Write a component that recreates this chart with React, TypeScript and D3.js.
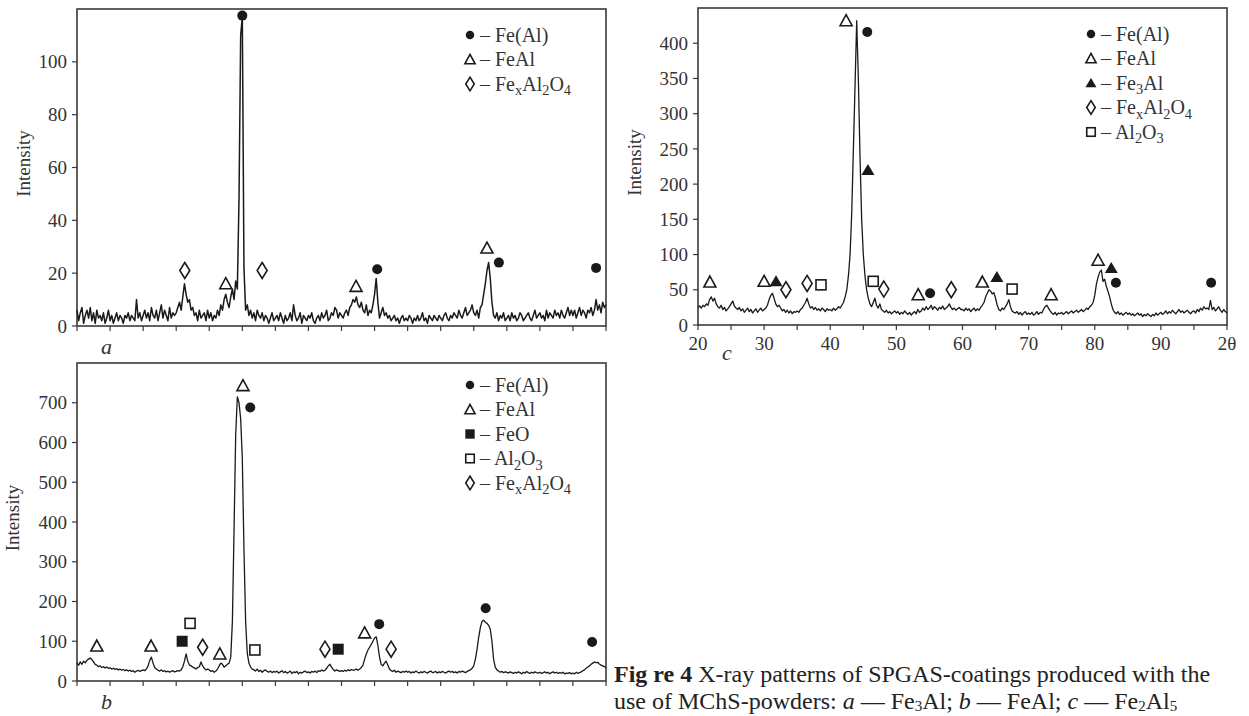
import React from 'react';
import * as d3 from 'd3';

// 2θ grid: 20° .. 100°, one reading every 0.25°
const TWO_THETA_START = 20;
const TWO_THETA_STEP = 0.25;

// a — Fe3Al powder coating
const intensityA = [
  6, 2, 5, 7, 1, 4, 6, 3, 7, 2, 5, 1, 6, 3, 4, 2, 5, 1, 3, 6,
  2, 4, 1, 3, 5, 2, 4, 3, 1, 4, 3, 5, 2, 4, 3, 2, 10, 3, 5, 2,
  4, 6, 3, 5, 2, 7, 4, 3, 6, 2, 5, 8, 3, 6, 4, 2, 7, 3, 5, 4,
  5, 7, 9, 6, 11, 16, 12, 9, 10, 6, 7, 4, 5, 2, 6, 3, 4, 5, 2, 6,
  3, 5, 2, 4, 3, 6, 4, 8, 6, 10, 12, 9, 7, 11, 14, 10, 17, 14, 48, 110,
  117, 22, 6, 8, 4, 6, 3, 5, 2, 6, 4, 3, 5, 2, 4, 3, 1, 3, 5, 2,
  3, 4, 2, 5, 3, 1, 4, 2, 3, 5, 2, 8, 4, 2, 3, 5, 1, 4, 3, 2,
  4, 3, 5, 2, 1, 3, 4, 2, 5, 3, 4, 6, 2, 3, 5, 4, 7, 6, 3, 5,
  4, 3, 5, 6, 4, 7, 8, 10, 9, 11, 8, 7, 9, 6, 5, 8, 4, 6, 5, 8,
  12, 18, 9, 3, 5, 7, 4, 5, 3, 4, 2, 3, 4, 2, 3, 1, 3, 4, 2, 3,
  2, 4, 3, 1, 3, 2, 4, 2, 3, 5, 2, 3, 1, 4, 3, 2, 4, 3, 2, 4,
  3, 2, 4, 5, 3, 2, 4, 3, 5, 4, 3, 6, 4, 3, 5, 7, 4, 5, 6, 8,
  5, 4, 6, 3, 7, 8, 12, 16, 21, 24, 18, 9, 4, 3, 5, 2, 4, 3, 5, 2,
  3, 4, 2, 5, 3, 4, 2, 3, 5, 4, 2, 3, 4, 5, 3, 2, 4, 6, 3, 4,
  5, 3, 4, 2, 6, 3, 5, 4, 3, 6, 4, 5, 3, 6, 4, 3, 5, 7, 4, 6,
  4, 6, 3, 5, 7, 4, 6, 5, 3, 6, 5, 7, 4, 6, 10, 6, 8, 5, 9, 7,
  8,
];

// b — FeAl powder coating
const intensityB = [
  45, 40, 48, 42, 50, 46, 52, 55, 58, 54, 48, 42, 40, 36, 38, 34, 36, 33, 35, 32,
  33, 30, 32, 29, 31, 28, 30, 27, 29, 26, 28, 25, 27, 24, 26, 22, 25, 27, 24, 26,
  28, 26, 30, 38, 52, 60, 45, 34, 30, 27, 25, 28, 24, 26, 23, 25, 22, 24, 26, 23,
  24, 26, 25, 28, 36, 50, 68, 50, 40, 38, 35, 33, 30, 34, 36, 48, 38, 32, 28, 30,
  28, 24, 26, 22, 25, 30, 38, 45, 42, 35, 38, 42, 45, 60, 150, 380, 620, 715, 700, 660,
  560, 330, 150, 70, 45, 35, 30, 28, 25, 30, 24, 27, 22, 26, 28, 24, 22, 25, 21, 24,
  22, 25, 20, 23, 26, 21, 24, 20, 22, 25, 19, 23, 21, 24, 18, 22, 20, 23, 25, 21,
  23, 20, 24, 22, 25, 21, 26, 24, 28, 25, 27, 32, 38, 42, 35, 29, 25, 28, 26, 24,
  26, 24, 27, 25, 28, 26, 29, 27, 28, 30, 27, 30, 34, 40, 55, 68, 78, 85, 92, 100,
  108, 111, 90, 60, 42, 38, 45, 50, 40, 30, 26, 24, 27, 22, 25, 23, 21, 24, 22, 25,
  22, 24, 20, 23, 21, 25, 22, 20, 23, 21, 24, 22, 20, 23, 25, 21, 22, 24, 20, 23,
  21, 24, 22, 20, 23, 25, 22, 24, 21, 23, 20, 24, 22, 25, 23, 21, 24, 26, 28, 32,
  38, 55, 80, 110, 135, 150, 153, 148, 145, 140, 130, 100, 55, 35, 28, 25, 22, 24, 21, 23,
  22, 20, 23, 21, 19, 22, 20, 23, 21, 18, 22, 20, 24, 21, 19, 22, 20, 23, 21, 20,
  22, 19, 21, 23, 20, 22, 18, 21, 23, 20, 22, 19, 21, 20, 22, 18, 20, 19, 21, 18,
  20, 18, 22, 19, 21, 23, 26, 28, 32, 35, 38, 42, 45, 48, 46, 47, 43, 40, 38, 36,
  34,
];

// c — Fe2Al5 powder coating
const intensityC = [
  25, 27, 24, 28, 26, 30, 28, 36, 40, 34, 38, 30, 26, 24, 28, 22, 25, 20, 23, 26,
  30, 34, 27, 24, 22, 25, 20, 23, 18, 21, 24, 19, 22, 17, 20, 23, 18, 21, 24, 20,
  22, 24, 28, 36, 42, 45, 38, 30, 26, 28, 24, 20, 22, 18, 21, 17, 20, 16, 19, 18,
  20, 18, 22, 24, 28, 32, 38, 30, 24, 26, 22, 25, 21, 23, 20, 24, 22, 19, 23, 21,
  22, 20, 24, 21, 23, 26, 24, 28, 32, 40, 50, 70, 100, 160, 250, 340, 432, 350, 240, 150,
  100, 70, 50, 38, 30, 26, 32, 38, 28, 24, 30, 22, 20, 18, 21, 17, 19, 16, 18, 20,
  17, 19, 15, 18, 16, 20, 17, 15, 18, 14, 17, 19, 16, 22, 18, 20, 24, 21, 26, 22,
  24, 28, 22, 26, 24, 21, 25, 23, 27, 22, 24, 26, 30, 25, 22, 24, 21, 23, 25, 22,
  22, 20, 24, 21, 23, 19, 22, 24, 20, 23, 21, 25, 28, 32, 40, 45, 50, 48, 44, 46,
  38, 28, 22, 20, 24, 22, 26, 30, 36, 26, 20, 18, 17, 19, 15, 18, 14, 17, 19, 15,
  17, 15, 18, 14, 16, 19, 15, 18, 17, 22, 26, 28, 24, 20, 17, 15, 18, 14, 17, 16,
  18, 15, 17, 19, 16, 18, 20, 17, 19, 21, 18, 20, 22, 19, 21, 24, 22, 26, 28, 32,
  42, 58, 68, 75, 78, 62, 65, 55, 48, 40, 30, 22, 18, 16, 19, 15, 17, 14, 16, 18,
  15, 17, 14, 16, 13, 15, 17, 14, 16, 12, 15, 13, 16, 14, 12, 15, 13, 17, 14, 16,
  18, 15, 17, 20, 16, 19, 17, 21, 18, 16, 19, 22, 18, 20, 17, 19, 21, 18, 16, 19,
  20, 17, 22, 19, 24, 21, 26, 23, 24, 22, 35, 22, 25, 20, 23, 26, 21, 18, 22, 19,
  17,
];

// phase marks: [phase, 2θ, intensity]
type Mark = [string, number, number];

const marksA: Mark[] = [
  ['FexAl2O4', 36.3, 21], ['FeAl', 42.5, 16], ['Fe(Al)', 45.0, 117.5], ['FexAl2O4', 48.0, 21],
  ['FeAl', 62.2, 15], ['Fe(Al)', 65.4, 21.5], ['FeAl', 82.0, 29.5], ['Fe(Al)', 83.8, 24],
  ['Fe(Al)', 98.5, 22],
];

const marksB: Mark[] = [
  ['FeAl', 23.0, 88], ['FeAl', 31.2, 88], ['FeO', 35.9, 100], ['Al2O3', 37.1, 145],
  ['FexAl2O4', 39.0, 85], ['FeAl', 41.6, 68], ['FeAl', 45.1, 743], ['Fe(Al)', 46.2, 688],
  ['Al2O3', 46.9, 78], ['FexAl2O4', 57.5, 80], ['FeO', 59.5, 80], ['FeAl', 63.5, 121],
  ['Fe(Al)', 65.7, 143], ['FexAl2O4', 67.5, 80], ['Fe(Al)', 81.8, 183], ['Fe(Al)', 97.9, 98],
];

const marksC: Mark[] = [
  ['FeAl', 21.8, 61], ['FeAl', 30.0, 62], ['Fe3Al', 31.8, 62], ['FexAl2O4', 33.3, 50],
  ['FexAl2O4', 36.5, 59], ['Al2O3', 38.6, 57], ['FeAl', 42.4, 432], ['Fe(Al)', 45.6, 416],
  ['Fe3Al', 45.7, 220], ['Al2O3', 46.5, 62], ['FexAl2O4', 48.1, 51], ['FeAl', 53.3, 43],
  ['Fe(Al)', 55.1, 45], ['FexAl2O4', 58.3, 50], ['FeAl', 63.0, 61], ['Fe3Al', 65.2, 68],
  ['Al2O3', 67.5, 51], ['FeAl', 73.4, 43], ['FeAl', 80.5, 92], ['Fe3Al', 82.5, 81],
  ['Fe(Al)', 83.2, 60], ['Fe(Al)', 97.6, 60],
];

const legendA = ['Fe(Al)', 'FeAl', 'FexAl2O4'];
const legendB = ['Fe(Al)', 'FeAl', 'FeO', 'Al2O3', 'FexAl2O4'];
const legendC = ['Fe(Al)', 'FeAl', 'Fe3Al', 'FexAl2O4', 'Al2O3'];

const ticksA = [0, 20, 40, 60, 80, 100];
const ticksB = [0, 100, 200, 300, 400, 500, 600, 700];
const ticksC = [0, 50, 100, 150, 200, 250, 300, 350, 400];
const xLabelsC = ['20', '30', '40', '50', '60', '70', '80', '90', '2θ'];

const INK = '#1a1a1a';
const AXIS = '#3a3a3a';
const TEXT = '#333';
const SERIF = '"Liberation Serif", "Times New Roman", serif';

// chemical formula as plain text + subscript pieces
const FORMULA: Record<string, [string, boolean][]> = {
  'Fe(Al)': [['Fe(Al)', false]],
  FeAl: [['FeAl', false]],
  Fe3Al: [['Fe', false], ['3', true], ['Al', false]],
  FeO: [['FeO', false]],
  Al2O3: [['Al', false], ['2', true], ['O', false], ['3', true]],
  FexAl2O4: [['Fe', false], ['x', true], ['Al', false], ['2', true], ['O', false], ['4', true]],
};

function Formula({ name, size }: { name: string; size: number }) {
  const parts = FORMULA[name];
  let down = false;
  return (
    <>
      {parts.map(([t, sub], i) => {
        const dy = sub && !down ? size * 0.22 : !sub && down ? -size * 0.22 : 0;
        down = sub;
        return (
          <tspan key={i} dy={dy} fontSize={sub ? size * 0.72 : size}>{t}</tspan>
        );
      })}
    </>
  );
}

function Marker({ kind, x, y, s = 1 }: { kind: string; x: number; y: number; s?: number }) {
  switch (kind) {
    case 'Fe(Al)':
      return <circle cx={x} cy={y} r={5 * s} fill={INK} />;
    case 'FeAl':
      return <path d={`M${x},${y - 6 * s}L${x + 6 * s},${y + 5 * s}L${x - 6 * s},${y + 5 * s}Z`} fill="#fff" stroke={INK} strokeWidth={1.6} />;
    case 'Fe3Al':
      return <path d={`M${x},${y - 6 * s}L${x + 6.5 * s},${y + 5 * s}L${x - 6.5 * s},${y + 5 * s}Z`} fill={INK} />;
    case 'FeO':
      return <rect x={x - 5.5 * s} y={y - 5.5 * s} width={11 * s} height={11 * s} fill={INK} />;
    case 'Al2O3':
      return <rect x={x - 5 * s} y={y - 5 * s} width={10 * s} height={10 * s} fill="#fff" stroke={INK} strokeWidth={1.6} />;
    default:
      return <path d={`M${x},${y - 8 * s}L${x + 5 * s},${y}L${x},${y + 8 * s}L${x - 5 * s},${y}Z`} fill="#fff" stroke={INK} strokeWidth={1.6} />;
  }
}

interface PanelProps {
  values: number[];
  yMax: number;
  yTicks: number[];
  box: { left: number; right: number; top: number; bottom: number };
  marks: Mark[];
  legend: string[];
  legendTop: number;
  letter: string;
  letterX: number;
  letterY: number;
  titleX: number;
  lineWidth: number;
  xLabels?: string[];
}

function Panel({ values, yMax, yTicks, box, marks, legend, legendTop, letter, letterX, letterY, titleX, lineWidth, xLabels }: PanelProps) {
  const x = d3.scaleLinear().domain([20, 100]).range([box.left, box.right]);
  const y = d3.scaleLinear().domain([0, yMax]).range([box.bottom, box.top]);
  const line = d3.line<number>()
    .x((_, i) => x(TWO_THETA_START + i * TWO_THETA_STEP))
    .y(d => y(d));
  const xTicks = d3.range(20, 100.01, 5);
  const legendX = box.right - 136;

  return (
    <g>
      <rect x={box.left} y={box.top} width={box.right - box.left} height={box.bottom - box.top}
        fill="none" stroke={AXIS} strokeWidth={1.6} />
      {xTicks.map(t => (
        <line key={t} x1={x(t)} x2={x(t)} y1={box.bottom} y2={box.bottom + 5} stroke={AXIS} strokeWidth={1.2} />
      ))}
      {yTicks.map(t => (
        <g key={t}>
          <line x1={box.left - 5} x2={box.left} y1={y(t)} y2={y(t)} stroke={AXIS} strokeWidth={1.2} />
          <text x={box.left - 10} y={y(t)} dy="0.35em" textAnchor="end" fontSize={19} fill={TEXT}>{t}</text>
        </g>
      ))}
      {xLabels && xLabels.map((l, i) => (
        <text key={l} x={x(20 + i * 10)} y={box.bottom + 25} textAnchor="middle" fontSize={19} fill={TEXT}>{l}</text>
      ))}
      <text transform={`translate(${titleX},${(box.top + box.bottom) / 2 - 4}) rotate(-90)`} textAnchor="middle"
        fontSize={19} fill={TEXT}>Intensity</text>
      <path d={line(values) ?? ''} fill="none" stroke={INK} strokeWidth={lineWidth} strokeLinejoin="round" />
      {marks.map(([k, t, v], i) => <Marker key={i} kind={k} x={x(t)} y={y(v)} />)}
      {legend.map((k, i) => {
        const ly = box.top + legendTop + i * 24.5;
        return (
          <g key={k}>
            <Marker kind={k} x={legendX} y={ly} s={0.85} />
            <text x={legendX + 10} y={ly} dy="0.33em" fontSize={20} fill={TEXT}>
              <tspan>– </tspan>
              <Formula name={k} size={20} />
            </text>
          </g>
        );
      })}
      <text x={letterX} y={letterY} fontSize={22} fontStyle="italic" fill={TEXT}>{letter}</text>
    </g>
  );
}

export default function App() {
  return (
    <div style={{ position: 'absolute', left: 0, top: 0, background: '#fff' }}>
      <svg width={1249} height={716} style={{ display: 'block', fontFamily: SERIF }}>
        <rect width={1249} height={716} fill="#fff" />
        <Panel values={intensityA} yMax={120} yTicks={ticksA}
          box={{ left: 77, right: 606, top: 9, bottom: 326 }} lineWidth={1.5}
          marks={marksA} legend={legendA} legendTop={26} letter="a" letterX={101} letterY={354} titleX={30} />
        <Panel values={intensityB} yMax={800} yTicks={ticksB}
          box={{ left: 77, right: 606, top: 363, bottom: 681 }} lineWidth={1.3}
          marks={marksB} legend={legendB} legendTop={22} letter="b" letterX={101} letterY={709} titleX={19} />
        <Panel values={intensityC} yMax={450} yTicks={ticksC}
          box={{ left: 698, right: 1227, top: 8, bottom: 325 }} lineWidth={1.3}
          marks={marksC} legend={legendC} legendTop={26} letter="c" letterX={722} letterY={360} titleX={641}
          xLabels={xLabelsC} />
        <g fontSize={24} fill="#222">
          <text x={614} y={682}>
            <tspan fontWeight="bold">Fig re 4</tspan>
            <tspan> X-ray patterns of SPGAS-coatings produced with the</tspan>
          </text>
          <text x={614} y={709}>
            <tspan>use of MChS-powders: </tspan>
            <tspan fontStyle="italic">a</tspan>
            <tspan> — Fe</tspan><tspan fontSize={15} dy={2}>3</tspan><tspan dy={-2}>Al; </tspan>
            <tspan fontStyle="italic">b</tspan>
            <tspan> — FeAl; </tspan>
            <tspan fontStyle="italic">c</tspan>
            <tspan> — Fe</tspan><tspan fontSize={15} dy={2}>2</tspan><tspan dy={-2}>Al</tspan>
            <tspan fontSize={15} dy={2}>5</tspan>
          </text>
        </g>
      </svg>
    </div>
  );
}
